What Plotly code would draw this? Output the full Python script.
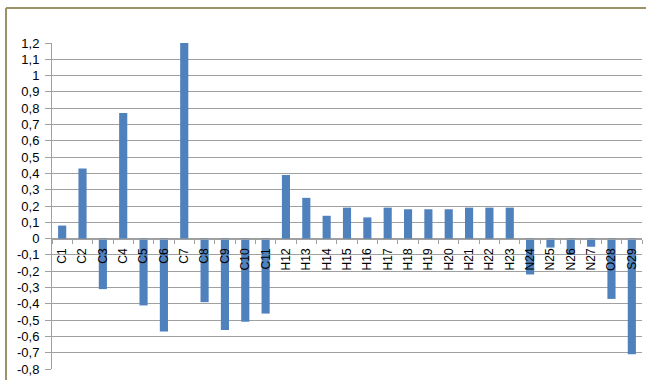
import plotly.graph_objects as go

# Atomic charges per atom
atoms = ["C1", "C2", "C3", "C4", "C5", "C6", "C7", "C8", "C9", "C10", "C11",
         "H12", "H13", "H14", "H15", "H16", "H17", "H18", "H19", "H20", "H21",
         "H22", "H23", "N24", "N25", "N26", "N27", "O28", "S29"]
charges = [0.08, 0.43, -0.31, 0.77, -0.41, -0.57, 1.20, -0.39, -0.56, -0.51, -0.46,
           0.39, 0.25, 0.14, 0.19, 0.13, 0.19, 0.18, 0.18, 0.18, 0.19,
           0.19, 0.19, -0.22, -0.055, -0.10, -0.05, -0.37, -0.71]

y_min, y_max = -0.8, 1.2
y_tick_vals = [round(-0.8 + 0.1 * i, 1) for i in range(21)]
y_tick_text = [("%g" % v).replace(".", ",") for v in y_tick_vals]

W, H = 646, 380
m_l, m_r, m_t, m_b = 52, 4, 43, 11
plot_w, plot_h = W - m_l - m_r, H - m_t - m_b

fig = go.Figure(go.Bar(
    x=atoms, y=charges,
    marker=dict(color="#4f81bd", line=dict(width=0)),
))

grid = "#a0a0a0"
fig.update_layout(
    width=W, height=H,
    margin=dict(l=m_l, r=m_r, t=m_t, b=m_b),
    paper_bgcolor="white", plot_bgcolor="white",
    bargap=0.6, showlegend=False,
    font=dict(family="Liberation Sans", color="black"),
    xaxis=dict(
        type="category", anchor="free",
        position=(0 - y_min) / (y_max - y_min),
        showline=True, linecolor=grid, linewidth=1,
        ticks="outside", ticklen=4, tickcolor=grid, tickson="boundaries",
        tickangle=-90, tickfont=dict(size=12), ticklabelstandoff=4,
        showgrid=False, zeroline=False,
    ),
    yaxis=dict(
        range=[y_min, y_max], tickvals=y_tick_vals, ticktext=y_tick_text,
        showline=True, linecolor=grid, linewidth=1,
        ticks="outside", ticklen=6, tickcolor=grid, ticklabelstandoff=3,
        showgrid=True, gridcolor=grid, gridwidth=1,
        zeroline=False, tickfont=dict(size=13),
    ),
)

# Outer chart frame (top and left edges)
frame = "#9c9268"
fx = (6 - m_l) / plot_w
fy = (H - m_b - 8) / plot_h
fig.add_shape(type="line", xref="paper", yref="paper", x0=fx, x1=1.2, y0=fy, y1=fy,
              line=dict(color=frame, width=2))
fig.add_shape(type="line", xref="paper", yref="paper", x0=fx, x1=fx, y0=fy, y1=-0.2,
              line=dict(color=frame, width=2))

fig.write_html("out.html")
